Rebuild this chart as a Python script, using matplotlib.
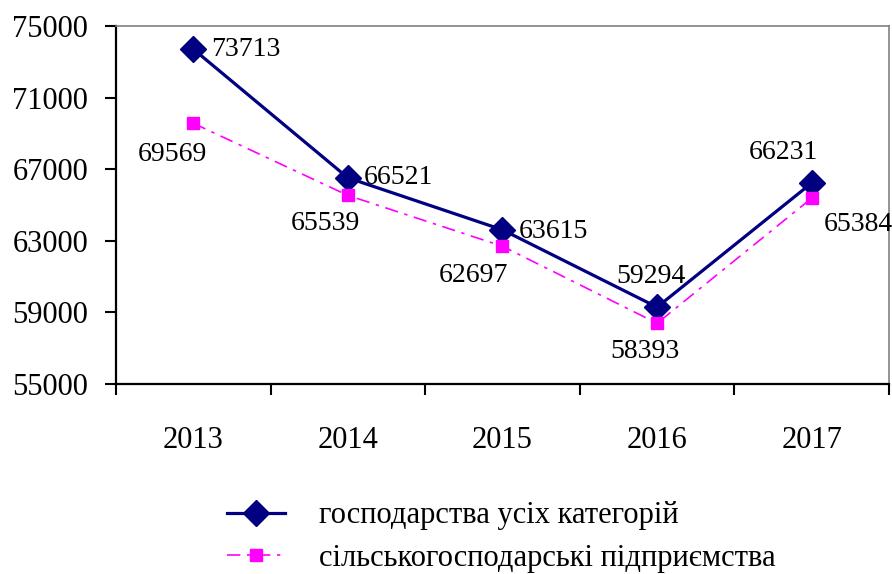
import matplotlib
matplotlib.use('Agg')
import matplotlib.pyplot as plt

years = ['2013', '2014', '2015', '2016', '2017']
all_farms = [73713, 66521, 63615, 59294, 66231]
agri_firms = [69569, 65539, 62697, 58393, 65384]
label_all = 'господарства усіх категорій'
label_agri = 'сільськогосподарські підприємства'

# label offsets in pixels (dx, dy), tuned by eye
off_all = [(18, 0), (16, 0), (16, -2), (-6, 31), (-28, 31)]
off_agri = [(-21, -31), (-22, -28), (-29, -29), (-12, -28), (47, -26)]

plt.rcParams['font.family'] = ['Liberation Serif', 'DejaVu Serif']

fig = plt.figure(figsize=(8.92, 5.74), dpi=100)
ax = fig.add_axes([0.130, 0.331, 0.8666, 0.6236])

x = list(range(len(years)))
ax.plot(x, all_farms, color='#000080', lw=2.3, marker='D', ms=13, label=label_all)
ax.plot(x, agri_firms, color='#FF00FF', lw=1.2, ls=(0, (8, 4, 2, 4)), marker='s', ms=8, label=label_agri)

for i, v in enumerate(all_farms):
    ax.annotate(str(v), (i, v), xytext=off_all[i], textcoords='offset pixels',
                ha='left' if off_all[i][0] > 10 else 'center', va='center', fontsize=20)
for i, v in enumerate(agri_firms):
    ax.annotate(str(v), (i, v), xytext=off_agri[i], textcoords='offset pixels',
                ha='center', va='center', fontsize=20)

ax.set_xlim(-0.5, 4.5)
ax.set_ylim(55000, 75000)
ax.set_yticks(range(55000, 75001, 4000))
ax.set_xticks(x)
ax.set_xticklabels(years)
ax.set_xticks([i - 0.5 for i in range(len(years) + 1)], minor=True)
ax.tick_params(axis='x', which='major', length=0, pad=30, labelsize=22)
ax.tick_params(axis='x', which='minor', length=8, width=1.5, direction='out')
ax.tick_params(axis='y', length=8, width=1.5, pad=12, labelsize=22)

for s in ['left', 'bottom']:
    ax.spines[s].set_linewidth(1.6)
    ax.spines[s].set_color('black')
for s in ['top', 'right']:
    ax.spines[s].set_linewidth(1.2)
    ax.spines[s].set_color('#808080')

fig.legend(loc='center', bbox_to_anchor=(0.562, 0.064), frameon=False, fontsize=22,
           handlelength=1.9, handletextpad=1.13, labelspacing=0.45)

fig.savefig('out.png', dpi=100)
